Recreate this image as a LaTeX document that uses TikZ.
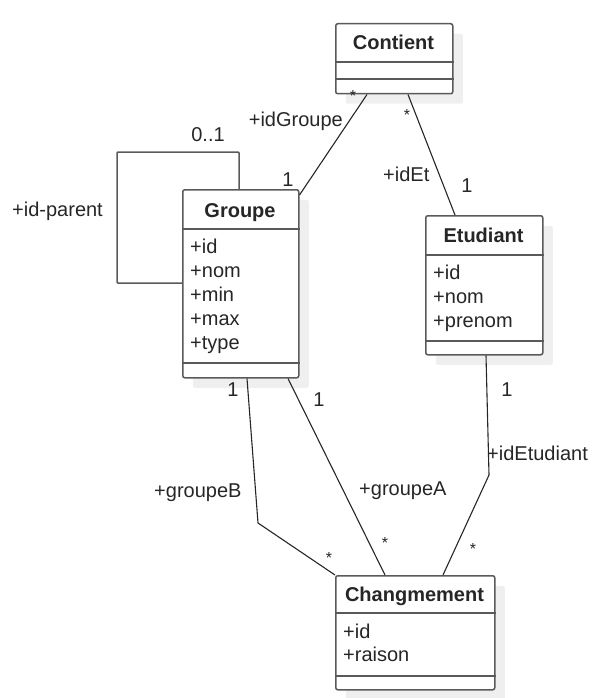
\documentclass[tikz,border=0pt]{standalone}
\usepackage{fontspec}
\setmainfont{Liberation Sans}
\usetikzlibrary{shadows}
\definecolor{txt}{HTML}{262626}
\definecolor{boxc}{HTML}{5A5A5A}
\definecolor{shad}{HTML}{EFEFEF}
\tikzset{
  clsbox/.style={draw=boxc, line width=1.5pt, fill=white, rounded corners=2pt,
    inner sep=0pt, anchor=north west,
    general shadow={fill=shad, shadow xshift=10pt, shadow yshift=-10pt}},
  sepline/.style={draw=boxc, line width=1.5pt},
  conn/.style={draw=black!85, line width=1.1pt},
  loopconn/.style={draw=boxc, line width=1.5pt},
  hdr/.style={font=\fontsize{20}{24}\selectfont\bfseries, text=txt, inner sep=0pt, anchor=base},
  attr/.style={font=\fontsize{20}{24}\selectfont, text=txt, inner sep=0pt, anchor=base west},
  lbl/.style={font=\fontsize{20}{24}\selectfont, text=txt, inner sep=0pt, anchor=base},
  lblw/.style={font=\fontsize{20}{24}\selectfont, text=txt, inner sep=0pt, anchor=base west},
  lble/.style={font=\fontsize{20}{24}\selectfont, text=txt, inner sep=0pt, anchor=base east},
  starl/.style={font=\fontsize{16}{18}\selectfont, text=txt, inner sep=0pt, anchor=base}
}
\begin{document}
\begin{tikzpicture}[x=1pt,y=-1pt]
\useasboundingbox (0,0) rectangle (604,698);
% classes
\node[clsbox, minimum width=117pt, minimum height=70pt] (contient) at (335,23) {};
\node[clsbox, minimum width=116pt, minimum height=188pt] (groupe) at (182,189) {};
\node[clsbox, minimum width=117pt, minimum height=139pt] (etudiant) at (425,215) {};
\node[clsbox, minimum width=159pt, minimum height=114pt] (chg) at (335,575) {};
% separators
\draw[sepline] (contient.west |- 0,62) -- (contient.east |- 0,62);
\draw[sepline] (contient.west |- 0,79) -- (contient.east |- 0,79);
\draw[sepline] (groupe.west |- 0,229) -- (groupe.east |- 0,229);
\draw[sepline] (groupe.west |- 0,363) -- (groupe.east |- 0,363);
\draw[sepline] (etudiant.west |- 0,255) -- (etudiant.east |- 0,255);
\draw[sepline] (etudiant.west |- 0,341) -- (etudiant.east |- 0,341);
\draw[sepline] (chg.west |- 0,613) -- (chg.east |- 0,613);
\draw[sepline] (chg.west |- 0,676) -- (chg.east |- 0,676);
% headers
\node[hdr] (hcont) at (393.5,50) {Contient};
\node[hdr] (hgrp) at (240,217) {Groupe};
\node[hdr] (hetu) at (483.5,242) {Etudiant};
\node[hdr] (hchg) at (414.5,601) {Changmement};
% attributes
\node[attr] (g1) at (190,253) {+id};
\node[attr] (g2) at (190,277) {+nom};
\node[attr] (g3) at (190,301) {+min};
\node[attr] (g4) at (190,325) {+max};
\node[attr] (g5) at (190,349) {+type};
\node[attr] (e1) at (433,279) {+id};
\node[attr] (e2) at (433,303) {+nom};
\node[attr] (e3) at (433,327) {+prenom};
\node[attr] (c1) at (343,638) {+id};
\node[attr] (c2) at (343,661) {+raison};
% connectors
\draw[conn] ([xshift=32pt]contient.south west) -- ([yshift=-6pt]groupe.north east);
\draw[conn] ([xshift=73pt]contient.south west) -- ([xshift=30pt]etudiant.north west);
\draw[loopconn, rounded corners=1pt] ([yshift=-94pt]groupe.north west) -- (117,283) -- (117,152) -- (239,152) -- ([xshift=57pt]groupe.north west);
\draw[conn] ([xshift=65pt]groupe.south west) -- (258,523) -- (chg.north west);
\draw[conn] ([xshift=106pt]groupe.south west) -- ([xshift=50pt]chg.north west);
\draw[conn] ([xshift=61pt]etudiant.south west) -- (489,475) -- ([xshift=108pt]chg.north west);
% labels
\node[starl] (s1) at (353,102) {*};
\node[starl] (s2) at (407,121) {*};
\node[lble] (lidg) at (343,127) {+idGroupe};
\node[lbl] (m1) at (288,186) {1};
\node[lblw] (lidet) at (383,181) {+idEt};
\node[lbl] (m2) at (467,192) {1};
\node[lbl] (m3) at (208,142) {0..1};
\node[lblw] (lpar) at (12,216) {+id-parent};
\node[lbl] (m4) at (233,396) {1};
\node[lbl] (m5) at (319,406) {1};
\node[lblw] (lgb) at (154,497) {+groupeB};
\node[lblw] (lga) at (359,495) {+groupeA};
\node[starl] (s3) at (329,563) {*};
\node[starl] (s4) at (385,548) {*};
\node[lbl] (m6) at (507,396) {1};
\node[lblw] (lide) at (487,460) {+idEtudiant};
\node[starl] (s5) at (473,554) {*};
\end{tikzpicture}
\end{document}
